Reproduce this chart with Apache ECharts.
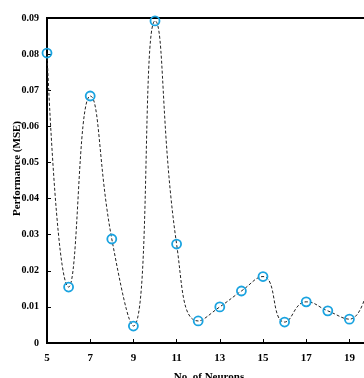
<!DOCTYPE html>
<html><head><meta charset="utf-8">
<script src="https://cdn.jsdelivr.net/npm/echarts@6/dist/echarts.min.js"></script>
<style>html,body{margin:0;padding:0;background:#fff}#c{width:364px;height:378px}</style>
</head><body><div id="c"></div>
<script>
var neurons = ['5','6','7','8','9','10','11','12','13','14','15','16','17','18','19','20'];
var mse = [0.0803, 0.0155, 0.0684, 0.0288, 0.0047, 0.0892, 0.0274, 0.0061, 0.0100, 0.0144, 0.0184, 0.0058, 0.0114, 0.0089, 0.0066, 0.0200];
var xTitle = 'No. of Neurons';
var yTitle = 'Performance (MSE)';
var font = 'Liberation Serif';
var chart = echarts.init(document.getElementById('c'));
chart.setOption({
  animation: false,
  grid: {left: 47, top: 18, right: -7, bottom: 35, containLabel: false, outerBoundsMode: 'none',
    show: true, borderColor: '#000', borderWidth: 2, backgroundColor: 'transparent'},
  xAxis: {
    type: 'category', data: neurons, boundaryGap: false,
    name: xTitle, nameLocation: 'middle', nameGap: 29, nameMoveOverlap: false,
    nameTextStyle: {fontFamily: font, fontWeight: 'bold', fontSize: 11, color: '#000'},
    axisLine: {lineStyle: {color: '#000', width: 2}},
    axisTick: {inside: true, length: 4, interval: 1, lineStyle: {color: '#000'}},
    axisLabel: {interval: 1, fontFamily: font, fontWeight: 'bold', fontSize: 11, color: '#000', margin: 10},
    splitLine: {show: false}
  },
  yAxis: {
    type: 'value', min: 0, max: 0.09, interval: 0.01,
    name: yTitle, nameLocation: 'middle', nameGap: 24, nameMoveOverlap: false,
    nameTextStyle: {fontFamily: font, fontWeight: 'bold', fontSize: 11, color: '#000', padding: [0, 0, 0, 24]},
    axisLine: {show: true, lineStyle: {color: '#000', width: 2}},
    axisTick: {show: true, inside: true, length: 4, lineStyle: {color: '#000'}},
    axisLabel: {fontFamily: font, fontWeight: 'bold', fontSize: 10, color: '#000', margin: 8,
      formatter: function(v){ return v === 0 ? '0' : v.toFixed(2); }},
    splitLine: {show: false}
  },
  series: [{
    type: 'line', data: mse, smooth: true,
    symbol: 'circle', symbolSize: 9,
    lineStyle: {color: '#222', width: 1, type: [3, 2]},
    itemStyle: {color: 'rgba(255,255,255,0)', borderColor: '#1aa3e0', borderWidth: 1.8},
    clip: false
  }]
});
</script></body></html>
